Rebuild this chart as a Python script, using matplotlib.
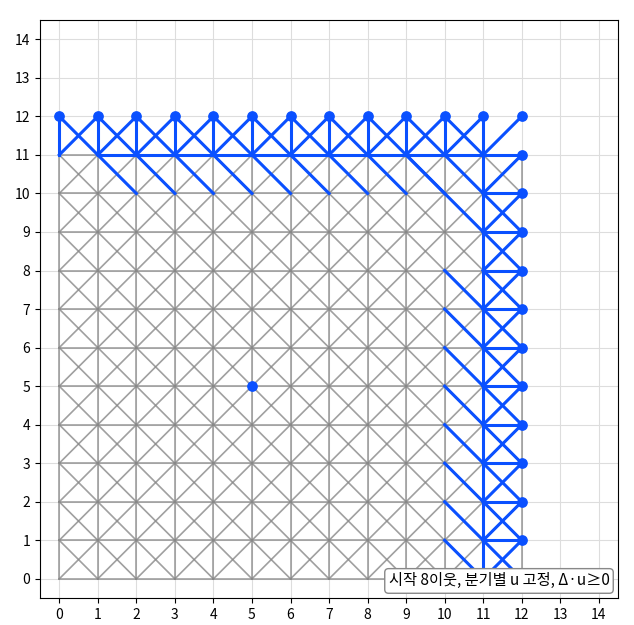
import matplotlib
matplotlib.use("Agg")
import matplotlib.pyplot as plt

plt.rcParams["font.family"] = ["Noto Sans CJK KR", "DejaVu Sans"]

# grid of visited nodes (gray), start node, branch frontier (blue)
grid_n = 12
start = (5, 5)
top_row = 12          # blue frontier row
right_col = 12        # blue frontier column
label = "시작 8이웃, 분기별 u 고정, Δ·u≥0"

# gray edges: full 8-neighbour lattice over the grid
gray = []
for x in range(grid_n + 1):
    for y in range(grid_n):
        if x < grid_n:
            gray.append(((x, y), (x + 1, y)))
        if y < grid_n - 1:
            gray.append(((x, y), (x, y + 1)))
        if x < grid_n and y < grid_n - 1:
            gray.append(((x, y), (x + 1, y + 1)))
            gray.append(((x + 1, y), (x, y + 1)))

# blue edges near the top and right borders
blue = []
for x in range(0, 12):
    blue.append(((x, 11), (x, 12)))
    blue.append(((x, 11), (x + 1, 12)))
for x in range(0, 11):
    blue.append(((x, 12), (x + 1, 11)))
for x in range(1, 12):
    blue.append(((x, 11), (x + 1, 11)))
for x in range(1, 11):
    blue.append(((x, 11), (x + 1, 10)))
blue.append(((9, 11), (11, 9)))
for y in range(0, 11):
    blue.append(((11, y), (11, y + 1)))
    blue.append(((11, y), (12, y + 1)))
for y in range(1, 11):
    blue.append(((11, y), (12, y)))
    blue.append(((11, y), (12, y - 1)))
for y in range(1, 9):
    blue.append(((10, y), (11, y - 1)))

blue_pts = [(x, top_row) for x in range(13)] + [(right_col, y) for y in range(1, 12)]

fig, ax = plt.subplots(figsize=(6.34, 6.25), dpi=100)
fig.subplots_adjust(left=0.063, right=0.975, bottom=0.043, top=0.968)
for (a, b) in gray:
    ax.plot([a[0], b[0]], [a[1], b[1]], color="#888888", lw=1.2, alpha=0.8, zorder=1)
for (a, b) in blue:
    ax.plot([a[0], b[0]], [a[1], b[1]], color="#0a50ff", lw=2.2, zorder=2)
ax.scatter([p[0] for p in blue_pts], [p[1] for p in blue_pts], color="#0a50ff", s=45, zorder=3)
ax.scatter([start[0]], [start[1]], color="#0a50ff", s=45, zorder=3)

ax.set_xlim(-0.5, 14.5)
ax.set_ylim(-0.5, 14.5)
ax.set_xticks(range(15))
ax.set_yticks(range(15))
ax.grid(True, color="#dddddd", lw=0.8)
ax.set_axisbelow(True)
ax.set_aspect("equal")
ax.text(0.985, 0.015, label, transform=ax.transAxes, ha="right", va="bottom", fontsize=11,
        bbox=dict(boxstyle="round,pad=0.25", fc="white", ec="#888888"), zorder=5)
fig.savefig("out.png", dpi=100)
